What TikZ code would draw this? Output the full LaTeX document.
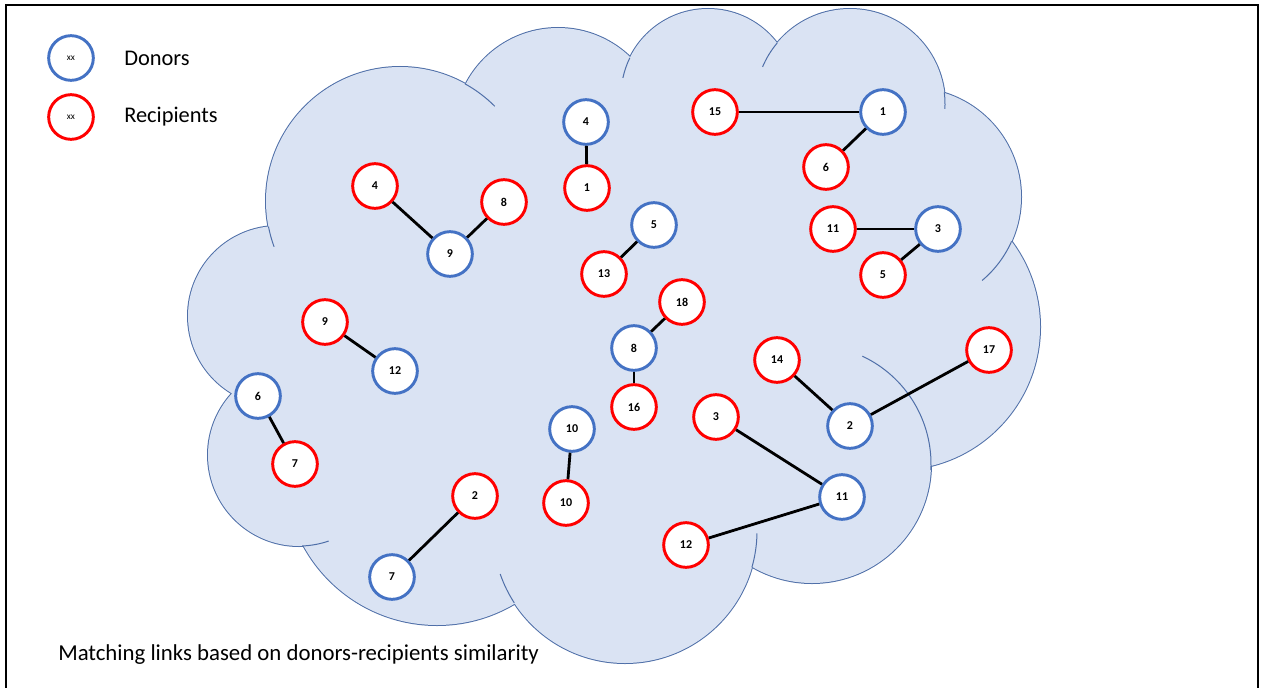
\documentclass[tikz,border=0pt]{standalone}
\usepackage{fontspec}
\setmainfont{Carlito}
\definecolor{dblue}{HTML}{4472C4}
\definecolor{rred}{HTML}{FF0000}
\definecolor{cloudfill}{HTML}{DAE3F3}
\definecolor{cloudline}{HTML}{4F6FA8}
\begin{document}
\begin{tikzpicture}[x=0.75pt,y=-0.75pt,
  donor/.style={circle, draw=dblue, line width=2.2pt, fill=white, minimum size=33.5pt, inner sep=0pt, font=\fontsize{9pt}{10pt}\selectfont\bfseries},
  recip/.style={circle, draw=rred, line width=2.2pt, fill=white, minimum size=33.5pt, inner sep=0pt, font=\fontsize{9pt}{10pt}\selectfont\bfseries},
  link/.style={line width=2.1pt, black},
  stub/.style={draw=cloudline, line width=0.75pt},
  legtext/.style={anchor=west, inner sep=0pt, font=\fontsize{16.8pt}{18pt}\selectfont},
  captext/.style={anchor=west, inner sep=0pt, font=\fontsize{17.1pt}{19pt}\selectfont}]
\useasboundingbox (0,0) rectangle (1262,688);
% frame
\draw[line width=1.6pt] (6,688) -- (6,5) -- (1258,5) -- (1258,688);
% cloud
\def\lobes{400/201/134, 558/132/104, 708/96/87, 850/104/95, 912/197/109, 897/327/143, 812/464/119, 625/531/132, 437/473/152, 299/455/91, 278/316/90}
\foreach \cx/\cy/\r in \lobes {\draw[cloudline, line width=1.5pt] (\cx,\cy) circle[radius=\r];}
\foreach \cx/\cy/\r in \lobes {\fill[cloudfill] (\cx,\cy) circle[radius=\r];}
\fill[cloudfill] (400,201) -- (558,132) -- (708,96) -- (850,104) -- (912,197) -- (897,327) -- (812,464) -- (625,531) -- (437,473) -- (299,455) -- (278,316) -- cycle;
% inner stubs of the cloud
\draw[stub] (400,201) ++(-61:134) arc[start angle=-61, end angle=-45, radius=134];
\draw[stub] (400,201) ++(169:134) arc[start angle=169, end angle=160, radius=134];
\draw[stub] (708,96) ++(206:87) arc[start angle=206, end angle=192, radius=87];
\draw[stub] (850,104) ++(220:95) arc[start angle=220, end angle=203, radius=95];
\draw[stub] (850,104) ++(-7:95) arc[start angle=-7, end angle=3, radius=95];
\draw[stub] (912,197) ++(24:109) arc[start angle=24, end angle=50, radius=109];
\draw[stub] (812,464) ++(-65:119) arc[start angle=-65, end angle=3, radius=119];
\draw[stub] (625,531) ++(16:132) arc[start angle=16, end angle=1, radius=132];
\draw[stub] (625,531) ++(147:132) arc[start angle=147, end angle=161, radius=132];
\draw[stub] (299,455) ++(88:91) arc[start angle=88, end angle=71, radius=91];
% legend
\node[donor, font=\fontsize{7pt}{8pt}\selectfont] (ld) at (71,58) {xx};
\node[recip, font=\fontsize{7pt}{8pt}\selectfont] (lr) at (71,117) {xx};
\node[legtext] (tdon) at (124,58) {Donors};
\node[legtext] (trec) at (124,117) {Recipients};
\node[captext] (cap) at (58,655) {Matching links based on donors-recipients similarity};
% donors
\node[donor] (d4) at (586,122) {4};
\node[donor] (d9) at (450,254) {9};
\node[donor] (d5) at (654,225) {5};
\node[donor] (d1) at (883,112) {1};
\node[donor] (d3) at (938,229) {3};
\node[donor] (d8) at (634,348) {8};
\node[donor] (d12) at (395,371) {12};
\node[donor] (d6) at (258,396) {6};
\node[donor] (d10) at (572,429) {10};
\node[donor] (d2) at (850,426) {2};
\node[donor] (d11) at (842,497) {11};
\node[donor] (d7) at (392,577) {7};
% recipients
\node[recip] (r4) at (375,186) {4};
\node[recip] (r8) at (504,202) {8};
\node[recip] (r1) at (587,188) {1};
\node[recip] (r13) at (604,274) {13};
\node[recip] (r15) at (715,112) {15};
\node[recip] (r6) at (826,167) {6};
\node[recip] (r11) at (833,229) {11};
\node[recip] (r5) at (883,275) {5};
\node[recip] (r18) at (682,302) {18};
\node[recip] (r9) at (325,322) {9};
\node[recip] (r16) at (634,407) {16};
\node[recip] (r14) at (777,360) {14};
\node[recip] (r17) at (989,350) {17};
\node[recip] (r3) at (716,417) {3};
\node[recip] (r7) at (295,464) {7};
\node[recip] (r2) at (475,496) {2};
\node[recip] (r10) at (566,503) {10};
\node[recip] (r12) at (686,545) {12};
% links
\draw[link] (r4) -- (d9);
\draw[link] (r8) -- (d9);
\draw[link] (d4) -- (r1);
\draw[link] (d5) -- (r13);
\draw[link] (r15) -- (d1);
\draw[link] (d1) -- (r6);
\draw[link] (r11) -- (d3);
\draw[link] (d3) -- (r5);
\draw[link] (r18) -- (d8);
\draw[link] (d8) -- (r16);
\draw[link] (r9) -- (d12);
\draw[link] (d6) -- (r7);
\draw[link] (d10) -- (r10);
\draw[link] (r2) -- (d7);
\draw[link] (r14) -- (d2);
\draw[link] (d2) -- (r17);
\draw[link] (r3) -- (d11);
\draw[link] (d11) -- (r12);
\end{tikzpicture}
\end{document}
